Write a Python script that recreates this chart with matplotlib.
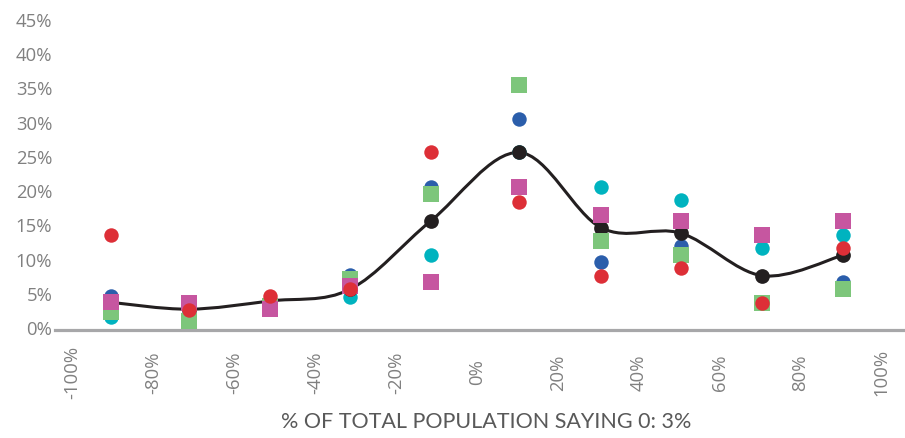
import matplotlib
matplotlib.use("Agg")
import matplotlib.pyplot as plt
from matplotlib.path import Path
from matplotlib.patches import PathPatch
import numpy as np

# ---- data ----
x_pos = [-90.5, -71.3, -51.2, -31.4, -11.4, 10.4, 30.7, 50.4, 70.5, 90.5]
blue    = [4.5, 3.5, 3.5, 7.6, 20.5, 30.4, 9.5, 11.8, 3.5, 6.5]
cyan    = [1.5, 2.0, 3.0, 4.4, 10.5, 25.5, 20.5, 18.5, 11.5, 13.4]
green   = [2.2, 0.9, 3.0, 7.0, 19.4, 35.4, 12.5, 10.5, 3.5, 5.5]
magenta = [3.6, 3.5, 2.6, 6.0, 6.5, 20.5, 16.4, 15.5, 13.5, 15.5]
red     = [13.5, 2.5, 4.5, 5.5, 25.5, 18.3, 7.5, 8.6, 3.5, 11.5]
total   = [3.6, 2.6, 3.8, 5.5, 15.5, 25.5, 14.5, 13.7, 7.5, 10.5]

y_ticks = [0, 5, 10, 15, 20, 25, 30, 35, 40, 45]
y_labels = [f"{v}%" for v in y_ticks]
x_ticks = [-100, -80, -60, -40, -20, 0, 20, 40, 60, 80, 100]
x_labels = [f"{v}%" for v in x_ticks]
x_title = "% OF TOTAL POPULATION SAYING 0: 3%"

# ---- styles ----
C_BLUE = "#2b5eab"
C_CYAN = "#00b3bf"
C_GREEN = "#7dc67b"
C_MAG = "#c656a0"
C_RED = "#dd2f37"
C_BLACK = "#231f20"
C_AXIS = "#a7a7a9"
C_TICK = "#808080"

W, H = 905, 439
fig = plt.figure(figsize=(W / 100, H / 100), dpi=100)
ax = fig.add_axes([55 / W, 1 - 331.4 / H, 850 / W, (331.4 - 20) / H])
ax.set_xlim(-104.3, 105.8)
ax.set_ylim(-0.5, 45)

for s in ["top", "right", "left"]:
    ax.spines[s].set_visible(False)
ax.spines["bottom"].set_color(C_AXIS)
ax.spines["bottom"].set_linewidth(2.3)

ax.set_yticks(y_ticks)
ax.set_yticklabels(y_labels, fontfamily="Open Sans", fontsize=13.3, color=C_TICK)
ax.tick_params(axis="y", length=0, pad=2)
ax.set_xticks(x_ticks)
ax.set_xticklabels(x_labels, fontfamily="Open Sans", fontsize=13.3, color=C_TICK,
                   rotation=90, va="center", ha="center")
ax.tick_params(axis="x", length=0, pad=29.5)

# smooth line (cubic Bezier through the total points)
pts = list(zip(x_pos, total))
verts = [pts[0]]
codes = [Path.MOVETO]
n = len(pts)
for i in range(n - 1):
    p0 = np.array(pts[i - 1] if i > 0 else pts[i])
    p1 = np.array(pts[i])
    p2 = np.array(pts[i + 1])
    p3 = np.array(pts[i + 2] if i + 2 < n else pts[i + 1])
    c1 = p1 + (p2 - p0) / 6.0
    c2 = p2 - (p3 - p1) / 6.0
    verts += [tuple(c1), tuple(c2), tuple(p2)]
    codes += [Path.CURVE4] * 3
ax.add_patch(PathPatch(Path(verts, codes), fill=False, edgecolor=C_BLACK,
                       linewidth=2.2, zorder=2, capstyle="round"))

ms_c = 10.4
ms_s = 11.5
ax.plot(x_pos, blue, "o", color=C_BLUE, ms=ms_c, mew=0, zorder=3)
ax.plot(x_pos, cyan, "o", color=C_CYAN, ms=ms_c, mew=0, zorder=4)
ax.plot(x_pos, total, "o", color=C_BLACK, ms=10.6, mew=0, zorder=5)
ax.plot(x_pos, green, "s", color=C_GREEN, ms=ms_s, mew=0, zorder=6)
ax.plot(x_pos, magenta, "s", color=C_MAG, ms=ms_s, mew=0, zorder=7)
ax.plot(x_pos, red, "o", color=C_RED, ms=ms_c, mew=0, zorder=8)

fig.text(486 / W, 1 - 422 / H, x_title, ha="center", va="center",
         fontfamily="Lato", fontsize=15.5, color="#595959")

fig.savefig("out.png", dpi=100)
